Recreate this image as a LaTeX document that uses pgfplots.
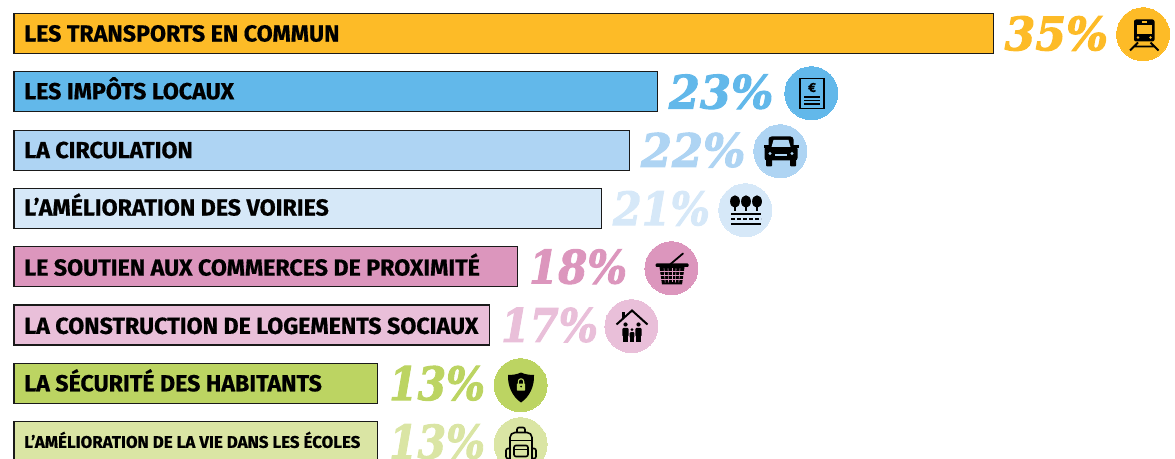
\documentclass[border=0pt]{standalone}
\usepackage{pgfplots}
\pgfplotsset{compat=1.18}
\usepackage{fontspec}
\setmainfont{Fira Sans}[BoldFont={Fira Sans Bold},BoldFeatures={FakeBold=0.6}]
\newfontfamily\pctfont{DejaVu Serif}[BoldItalicFont={DejaVu Serif Bold Italic},BoldItalicFeatures={FakeBold=2.2}]
\definecolor{c1}{HTML}{FDBB27}
\definecolor{c2}{HTML}{62B8EA}
\definecolor{c3}{HTML}{AED4F3}
\definecolor{c4}{HTML}{D6E8F8}
\definecolor{c5}{HTML}{DC96BD}
\definecolor{c6}{HTML}{E9BFD9}
\definecolor{c7}{HTML}{BCD462}
\definecolor{c8}{HTML}{DAE5A4}
\definecolor{ink}{HTML}{1A1A1A}
\pgfplotsset{
  barrow/.style={xbar,bar width=40pt,bar shift=0pt,draw=ink,line width=1.1pt,fill=#1,
    nodes near coords={\pgfmathprintnumber{\pgfplotspointmeta}\%},point meta=x,
    every node near coord/.append style={font=\fontsize{46}{46}\pctfont\bfseries\itshape,text=#1,anchor=west,inner sep=0pt,xshift=11pt}},
  squeeze/.style={every node near coord/.append style={xscale=#1,transform shape}},
  disc/.style={only marks,mark=*,mark size=26.5pt,draw=#1,fill=#1,mark options={draw=#1,fill=#1,line width=0pt}},
}
\newcommand{\lab}[3][\fontsize{23.2}{23.2}\selectfont]{\node[anchor=base west,inner sep=0pt,text=black,font=#1\bfseries,yshift=-8pt] at (axis cs:0.36,#2) {#3};}
% icons, drawn in pixels round the centre of a disc
\newcommand{\train}[1]{\fill[black,rounded corners=2pt] (-10,15) rectangle (10.5,-7);
  \fill[#1] (-7.5,9.5) rectangle (8,0.5);
  \fill[#1] (-2.5,13.5) rectangle (3,11);
  \fill[#1] (-6,-3) circle (1.4); \fill[#1] (6.5,-3) circle (1.4);
  \draw[black,line width=1.8pt] (-6,-8)--(-14,-16) (6.5,-8)--(14.5,-16) (-10.5,-12)--(11,-12);}
\newcommand{\doc}[1]{\draw[black,line width=1.4pt] (-12,15) rectangle (12,-15);
  \node[font=\bfseries\fontsize{13}{13}\selectfont,inner sep=0pt] at (0,6) {€};
  \draw[black,line width=1.4pt] (-8,-3.5)--(8,-3.5) (-8,-7)--(8,-7) (-8,-10.5)--(8,-10.5);}
\newcommand{\car}[1]{\fill[black,rounded corners=2.5pt] (-16.5,5) rectangle (16.5,-9);
  \fill[black,rounded corners=3pt] (-12.5,2) rectangle (12.5,15);
  \fill[#1] (-9.5,4.5)--(-7.5,11.5)--(7.5,11.5)--(9.5,4.5)--cycle;
  \fill[black] (-17.5,6.5) rectangle (-12,3.5); \fill[black] (12,6.5) rectangle (17.5,3.5);
  \fill[black,rounded corners=1pt] (-15,-7) rectangle (-9,-15); \fill[black,rounded corners=1pt] (9,-7) rectangle (15,-15);
  \fill[#1] (-11,-2) circle (1.7); \fill[#1] (11,-2) circle (1.7); \fill[#1] (-6,-5) rectangle (6,-2.5);}
\newcommand{\trees}[1]{\foreach \x in {-11,0,11}{
    \fill[black] (\x,9) ellipse (4.9 and 6.2); \fill[black] (\x-1,-1) rectangle (\x+1,6);}
  \draw[black,line width=1.4pt] (-15,-3.5)--(15,-3.5) (-15,-13.5)--(15,-13.5);
  \draw[black,line width=1.4pt,dash pattern=on 4pt off 2pt] (-15,-8.5)--(15,-8.5);}
\newcommand{\basket}[1]{\draw[black,line width=1.8pt,line cap=round] (-2,4)--(11,15);
  \fill[black,rounded corners=1pt] (-16.5,5) rectangle (16.5,1.5);
  \fill[black] (-12.5,1.5)--(12.5,1.5)--(10,-16)--(-10,-16)--cycle;
  \foreach \x in {-8,-4,0,4,8}{\draw[#1,line width=.6pt] (\x,0)--(\x*.85,-14);}
  \foreach \y in {-3,-7,-11}{\draw[#1,line width=.6pt] (-12,\y)--(12,\y);}}
\newcommand{\house}[1]{\draw[black,line width=2pt,line join=miter] (-15.5,2)--(0,16)--(15.5,2);
  \fill[black] (-10,8) rectangle (-7,14);
  \foreach \x/\s in {-6.5/1,6.5/1,0/.72}{
    \fill[black] (\x,{-16+18*\s}) circle ({2.1*\s});
    \fill[black,rounded corners=1pt] ({\x-3.2*\s},{-16+14.5*\s}) rectangle ({\x+3.2*\s},{-16+6*\s});
    \fill[black] ({\x-2.2*\s},{-16+7*\s}) rectangle ({\x+2.2*\s},-16);}}
\newcommand{\shield}[1]{\fill[black] (0,13) .. controls (4,11) and (9,10.5) .. (13,10.5)
    .. controls (13.5,0) and (9,-11) .. (0,-17) .. controls (-9,-11) and (-13.5,0) .. (-13,10.5)
    .. controls (-9,10.5) and (-4,11) .. (0,13) -- cycle;
  \draw[#1,line width=1.1pt] (-2.7,1.5)--(-2.7,4) arc (180:0:2.7)--(2.7,1.5);
  \fill[#1,rounded corners=.6pt] (-4.2,2) rectangle (4.2,-5);
  \fill[black] (0,-1) circle (1);}
\newcommand{\backpack}[1]{\draw[black,line width=1.6pt,rounded corners=5pt] (-11,-24) rectangle (11,12);
  \draw[black,line width=1.6pt,rounded corners=2pt] (-4,12)--(-4,17)--(4,17)--(4,12);
  \draw[black,line width=1.6pt,rounded corners=2pt] (-7,-1) rectangle (7,-12);
  \draw[black,line width=1.6pt] (-11,4)--(11,4) (-7,-5)--(7,-5);
  \draw[black,line width=1.6pt,rounded corners=2pt] (-11,-4)--(-15,-4)--(-15,-14)--(-11,-14) (11,-4)--(15,-4)--(15,-14)--(11,-14);}
\newcommand{\icon}[3]{\begin{scope}[shift={(#1pt,{458pt-#2pt})},x=1pt,y=1pt]#3\end{scope}}
\begin{document}
\begin{tikzpicture}[x=1pt,y=1pt]
\path[use as bounding box] (0,0) rectangle (1175pt,458pt);
\clip (0,0) rectangle (1175pt,458pt);
\begin{axis}[at={(0,0)},anchor=south west,scale only axis,width=1175pt,height=458pt,
  axis lines=none,clip=true,y dir=reverse,
  xmin=-0.5,xmax=41.5,ymin=-0.5747,ymax=7.2813,
  /pgf/number format/assume math mode=true]
\addplot[barrow=c1,squeeze=.96] coordinates {(35,0)};
\addplot[barrow=c2,squeeze=.97] coordinates {(23,1)};
\addplot[barrow=c3,squeeze=.97] coordinates {(22,2)};
\addplot[barrow=c4,squeeze=.9] coordinates {(21,3)};
\addplot[barrow=c5,squeeze=.91] coordinates {(18,4)};
\addplot[barrow=c6,squeeze=.9] coordinates {(17,5)};
\addplot[barrow=c7,squeeze=.89] coordinates {(13,6)};
\addplot[barrow=c8,squeeze=.89] coordinates {(13,7)};
% discs behind the icons
\addplot[disc=c1] coordinates {(40.36,0.012)};
\addplot[disc=c2] coordinates {(28.50,1.024)};
\addplot[disc=c3] coordinates {(27.39,2.019)};
\addplot[disc=c4] coordinates {(26.14,3.031)};
\addplot[disc=c5] coordinates {(23.50,4.026)};
\addplot[disc=c6] coordinates {(22.07,5.020)};
\addplot[disc=c7] coordinates {(18.11,6.032)};
\addplot[disc=c8] coordinates {(18.11,7.044)};
\lab{0}{LES TRANSPORTS EN COMMUN}
\lab{0.99}{LES IMPÔTS LOCAUX}
\lab{2}{LA CIRCULATION}
\lab{2.985}{L’AMÉLIORATION DES VOIRIES}
\lab{4.015}{LE SOUTIEN AUX COMMERCES DE PROXIMITÉ}
\lab{5.015}{LA CONSTRUCTION DE LOGEMENTS SOCIAUX}
\lab{6}{LA SÉCURITÉ DES HABITANTS}
\lab[\fontsize{16.9}{16.9}\selectfont]{6.97}{L’AMÉLIORATION DE LA VIE DANS LES ÉCOLES}
\end{axis}
\icon{1144}{34.5}{\train{c1}}
\icon{812}{93.5}{\doc{c2}}
\icon{781}{151.5}{\car{c3}}
\icon{746}{210.5}{\trees{c4}}
\icon{672}{268.5}{\basket{c5}}
\icon{632}{326.5}{\house{c6}}
\icon{521}{385.5}{\shield{c7}}
\icon{521}{444.5}{\backpack{c8}}
\end{tikzpicture}
\end{document}
